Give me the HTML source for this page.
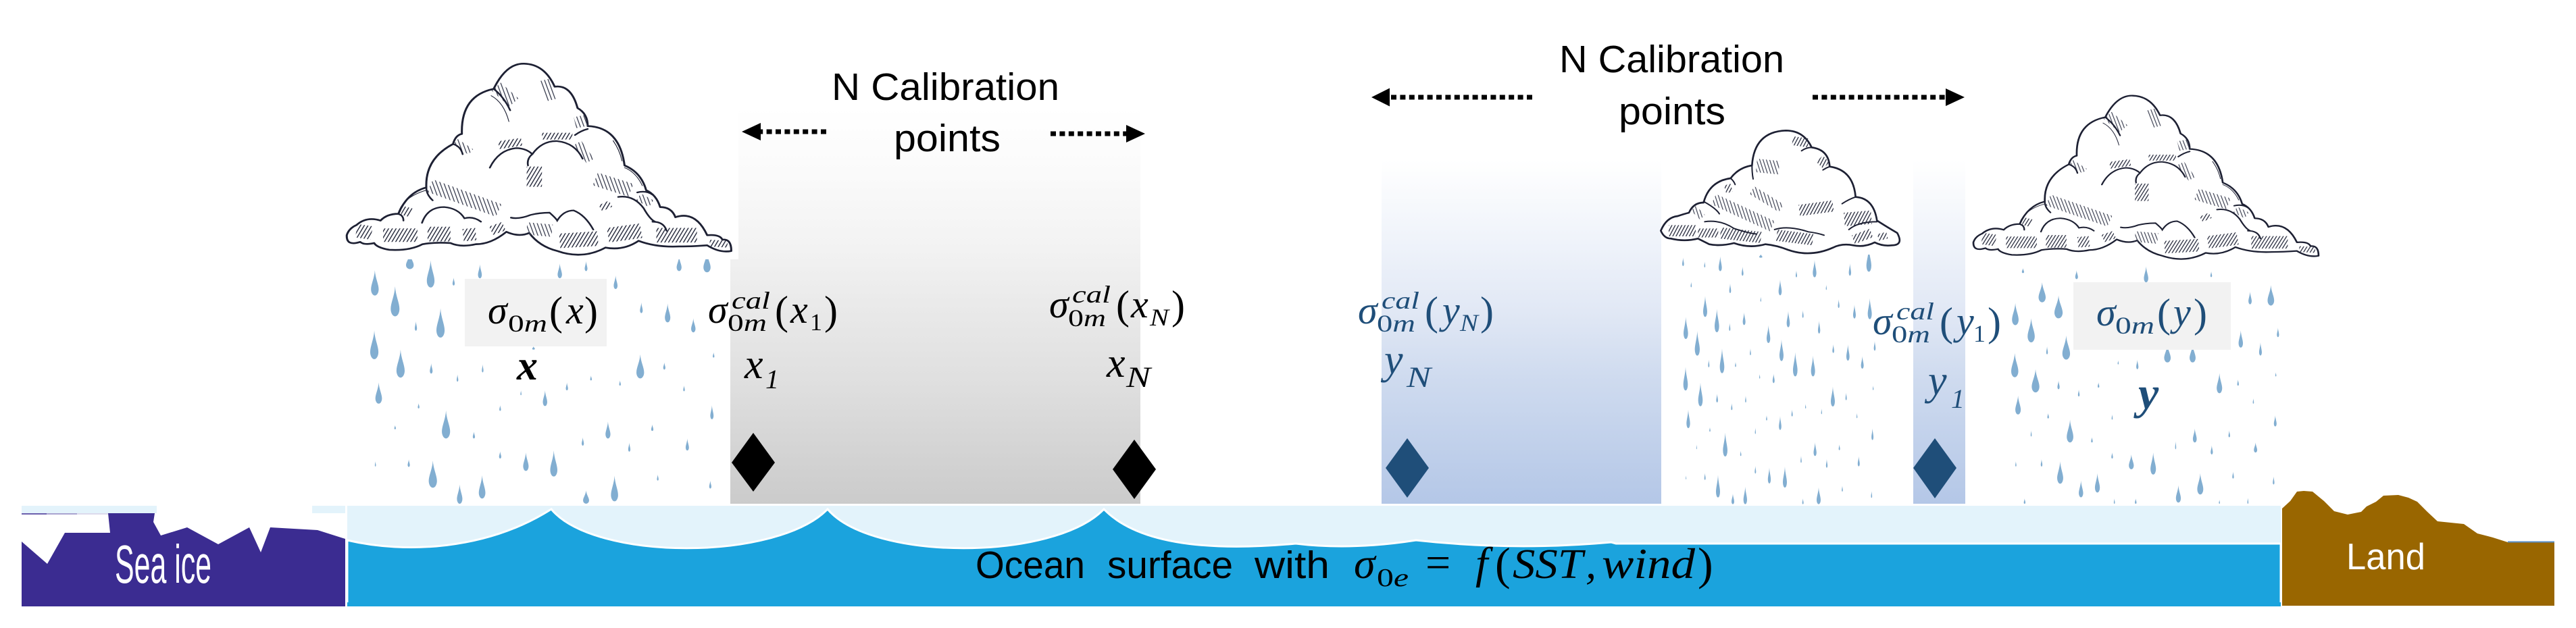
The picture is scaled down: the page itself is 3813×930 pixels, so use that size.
<!DOCTYPE html>
<html lang="en"><head><meta charset="utf-8"><title>N Calibration points diagram</title>
<style>
html,body{margin:0;padding:0;background:#fff}
svg{display:block}
.lab{font-family:"Liberation Sans",sans-serif;font-size:57px;fill:#000}
.wh{font-family:"Liberation Sans",sans-serif;fill:#fff}
.m{font-family:"Liberation Serif",serif;font-style:italic;font-size:58px}
.sb{font-family:"Liberation Serif",serif;font-style:italic;font-size:36px}
.p{font-family:"Liberation Serif",serif;font-size:60px}
.v{font-family:"Liberation Serif",serif;font-style:italic;font-size:62px}
.k{fill:#000}.b{fill:#1f4e79}
</style></head><body>
<svg width="3813" height="930" viewBox="0 0 3813 930" xmlns="http://www.w3.org/2000/svg">
<defs>
<linearGradient id="gG" x1="0" y1="0" x2="0" y2="1"><stop offset="0" stop-color="#fff"/><stop offset=".17" stop-color="#fafafa"/><stop offset=".34" stop-color="#f3f3f3"/><stop offset=".51" stop-color="#e9e9e9"/><stop offset=".68" stop-color="#e0e0e0"/><stop offset="1" stop-color="#cbcbcb"/></linearGradient>
<linearGradient id="gB" x1="0" y1="0" x2="0" y2="1"><stop offset="0" stop-color="#fff"/><stop offset=".24" stop-color="#eff3fa"/><stop offset=".44" stop-color="#e1e8f5"/><stop offset=".63" stop-color="#cfdbef"/><stop offset="1" stop-color="#b4c7e7"/></linearGradient>
<pattern id="h1" patternUnits="userSpaceOnUse" width="13" height="13" patternTransform="rotate(28)"><rect width="4" height="13" fill="#2a2e40"/></pattern>
<pattern id="h2" patternUnits="userSpaceOnUse" width="14" height="14" patternTransform="rotate(-18)"><rect width="3.500" height="14" fill="#3a3e50"/></pattern>
<path id="d" d="M0,0C.05,.3 .5,.55 .5,.75A.5,.25 0 1 1 -.5,.75C-.5,.55 -.05,.3 0,0Z"/>
<g id="c1">
<path d="M22,790Q30,760 60,745Q100,705 155,725Q180,695 225,695Q260,600 335,578Q330,450 440,385Q450,345 475,340Q470,170 600,140Q650,25 720,28Q800,30 840,130Q905,120 930,225Q970,250 970,305Q1095,310 1115,480Q1180,510 1200,590Q1240,610 1255,665Q1300,665 1315,710Q1395,680 1440,790Q1490,785 1500,810Q1535,805 1535,860Q1490,870 1440,835Q1380,840 1330,840Q1240,845 1170,815Q1110,860 1040,845Q950,900 850,860Q780,840 740,780Q700,800 650,775Q590,830 530,830Q470,845 430,825Q370,820 320,830Q270,860 190,855Q140,845 130,825Q90,835 75,820Q20,840 22,790Z" fill="#fff" stroke="#1d2033" stroke-width="8" stroke-linejoin="round"/>
<g fill="none" stroke-linecap="butt">
<path d="M60,770L120,780" stroke="url(#h1)" stroke-width="60"/>
<path d="M165,790L300,790" stroke="url(#h1)" stroke-width="60"/>
<path d="M340,785L430,785" stroke="url(#h1)" stroke-width="65"/>
<path d="M480,790L530,785" stroke="url(#h1)" stroke-width="55"/>
<path d="M590,770L640,750" stroke="url(#h1)" stroke-width="40"/>
<path d="M730,760L830,770" stroke="url(#h2)" stroke-width="55"/>
<path d="M860,815L1010,805" stroke="url(#h1)" stroke-width="65"/>
<path d="M1050,790L1180,770" stroke="url(#h1)" stroke-width="65"/>
<path d="M1240,790L1400,790" stroke="url(#h1)" stroke-width="65"/>
<path d="M1450,825L1520,830" stroke="url(#h1)" stroke-width="30"/>
<path d="M350,570L620,680" stroke="url(#h2)" stroke-width="60"/>
<path d="M1000,540L1140,590" stroke="url(#h2)" stroke-width="60"/>
<path d="M730,530L790,530" stroke="url(#h1)" stroke-width="90"/>
<path d="M610,130L680,200" stroke="url(#h2)" stroke-width="50"/>
<path d="M800,100L825,190" stroke="url(#h2)" stroke-width="40"/>
<path d="M920,290L965,280" stroke="url(#h2)" stroke-width="50"/>
<path d="M450,375L510,420" stroke="url(#h2)" stroke-width="30"/>
<path d="M620,390L710,375" stroke="url(#h1)" stroke-width="35"/>
<path d="M790,350L910,350" stroke="url(#h1)" stroke-width="30"/>
<path d="M930,380L980,460" stroke="url(#h2)" stroke-width="35"/>
<path d="M1020,670L1060,650" stroke="url(#h1)" stroke-width="30"/>
<path d="M1170,620L1220,650" stroke="url(#h2)" stroke-width="35"/>
<path d="M240,680L275,690" stroke="url(#h1)" stroke-width="40"/>
</g>
<g fill="none" stroke="#1d2033" stroke-width="7" stroke-linecap="round">
<path d="M600,140Q640,175 665,235"/>
<path d="M590,170Q640,200 660,285" stroke-width="3"/>
<path d="M440,385Q470,395 478,430"/>
<path d="M335,578Q335,610 360,635"/>
<path d="M585,490Q620,410 690,403Q730,405 752,430Q730,450 735,480"/>
<path d="M752,430Q790,370 850,372Q920,380 950,450"/>
<path d="M920,345Q945,325 970,318"/>
<path d="M1090,620Q1150,610 1190,670Q1215,720 1235,730"/>
<path d="M1165,600Q1200,590 1225,610"/>
<path d="M1115,490Q1160,510 1185,570" stroke-width="3"/>
<path d="M318,735Q340,665 405,665Q460,670 485,715Q520,705 550,730"/>
<path d="M668,712Q700,720 745,700Q780,690 820,690Q845,715 850,725Q875,680 915,680Q960,700 992,765"/>
<path d="M1225,730Q1270,730 1280,770"/>
<path d="M222,695Q245,700 245,725"/>
<path d="M225,690Q245,620 335,590" stroke-width="3"/>
<path d="M1070,370Q1095,410 1105,460" stroke-width="3"/>
</g>
</g>
</defs>

<!-- panels -->
<rect x="1081" y="160" width="607" height="586" fill="url(#gG)"/>
<rect x="2045" y="237" width="864" height="509" fill="url(#gB)"/>

<!-- image white backgrounds -->
<rect x="505" y="384" width="576" height="362" fill="#fff"/>
<rect x="2459" y="193" width="373" height="553" fill="#fff"/>
<rect x="2909" y="130" width="530" height="616" fill="#fff"/>

<!-- rain left -->
<g fill="#82aed1" transform="scale(.81 .593)">
<use href="#d" transform="translate(749 632)scale(14 40)"/><use href="#d" transform="translate(787 650)scale(14 68)"/><use href="#d" transform="translate(877 660)scale(7 35)"/><use href="#d" transform="translate(1023 658)scale(8 37)"/><use href="#d" transform="translate(1071 652)scale(5 25)"/><use href="#d" transform="translate(1241 640)scale(9 37)"/><use href="#d" transform="translate(1292 630)scale(13 50)"/><use href="#d" transform="translate(685 675)scale(14 63)"/><use href="#d" transform="translate(829 693)scale(4 20)"/><use href="#d" transform="translate(1125 688)scale(7 34)"/><use href="#d" transform="translate(722 715)scale(16 75)"/><use href="#d" transform="translate(1172 755)scale(5 27)"/><use href="#d" transform="translate(1220 758)scale(10 47)"/><use href="#d" transform="translate(805 770)scale(15 73)"/><use href="#d" transform="translate(760 802)scale(4 24)"/><use href="#d" transform="translate(1267 795)scale(8 35)"/><use href="#d" transform="translate(684 825)scale(15 72)"/><use href="#d" transform="translate(975 865)scale(5 8)"/><use href="#d" transform="translate(1170 885)scale(14 60)"/><use href="#d" transform="translate(732 873)scale(15 70)"/><use href="#d" transform="translate(788 907)scale(5 26)"/><use href="#d" transform="translate(882 910)scale(3 20)"/><use href="#d" transform="translate(1214 905)scale(4 18)"/><use href="#d" transform="translate(836 935)scale(3 18)"/><use href="#d" transform="translate(1304 880)scale(3 13)"/><use href="#d" transform="translate(1080 938)scale(3 12)"/><use href="#d" transform="translate(1133 950)scale(3 13)"/><use href="#d" transform="translate(1036 955)scale(4 20)"/><use href="#d" transform="translate(1250 963)scale(3 14)"/><use href="#d" transform="translate(692 955)scale(12 53)"/><use href="#d" transform="translate(952 975)scale(2 12)"/><use href="#d" transform="translate(996 975)scale(8 39)"/><use href="#d" transform="translate(765 1007)scale(3 13)"/><use href="#d" transform="translate(914 1012)scale(3 14)"/><use href="#d" transform="translate(1301 1012)scale(6 35)"/><use href="#d" transform="translate(815 1025)scale(15 70)"/><use href="#d" transform="translate(1111 1053)scale(9 42)"/><use href="#d" transform="translate(1192 1060)scale(4 16)"/><use href="#d" transform="translate(866 1078)scale(4 17)"/><use href="#d" transform="translate(722 1062)scale(3 10)"/><use href="#d" transform="translate(1065 1092)scale(4 21)"/><use href="#d" transform="translate(1150 1105)scale(4 23)"/><use href="#d" transform="translate(1256 1095)scale(6 30)"/><use href="#d" transform="translate(914 1127)scale(4 18)"/><use href="#d" transform="translate(961 1130)scale(10 46)"/><use href="#d" transform="translate(1012 1125)scale(13 65)"/><use href="#d" transform="translate(686 1152)scale(2 13)"/><use href="#d" transform="translate(747 1147)scale(4 19)"/><use href="#d" transform="translate(791 1150)scale(15 68)"/><use href="#d" transform="translate(1202 1185)scale(3 15)"/><use href="#d" transform="translate(881 1187)scale(12 58)"/><use href="#d" transform="translate(1123 1188)scale(13 64)"/><use href="#d" transform="translate(1298 1200)scale(4 20)"/><use href="#d" transform="translate(840 1210)scale(10 48)"/><use href="#d" transform="translate(1071 1225)scale(11 33)"/>
</g>

<!-- rain middle -->
<g fill="#82aed1" transform="translate(2450 370) scale(.3333)">
<use href="#d" transform="translate(124 35)scale(8 37)"/><use href="#d" transform="translate(220 52)scale(5 26)"/><use href="#d" transform="translate(289 28)scale(14 67)"/><use href="#d" transform="translate(388 75)scale(8 40)"/><use href="#d" transform="translate(469 20)scale(14 15)"/><use href="#d" transform="translate(627 92)scale(6 30)"/><use href="#d" transform="translate(708 45)scale(16 77)"/><use href="#d" transform="translate(865 60)scale(10 55)"/><use href="#d" transform="translate(949 -10)scale(22 107)"/><use href="#d" transform="translate(160 142)scale(5 24)"/><use href="#d" transform="translate(333 150)scale(8 42)"/><use href="#d" transform="translate(555 132)scale(14 70)"/><use href="#d" transform="translate(760 155)scale(4 23)"/><use href="#d" transform="translate(469 208)scale(4 22)"/><use href="#d" transform="translate(222 205)scale(18 93)"/><use href="#d" transform="translate(274 262)scale(20 104)"/><use href="#d" transform="translate(136 298)scale(20 98)"/><use href="#d" transform="translate(395 278)scale(12 56)"/><use href="#d" transform="translate(331 325)scale(6 35)"/><use href="#d" transform="translate(591 272)scale(14 72)"/><use href="#d" transform="translate(656 268)scale(6 34)"/><use href="#d" transform="translate(728 315)scale(10 57)"/><use href="#d" transform="translate(815 220)scale(7 38)"/><use href="#d" transform="translate(885 243)scale(12 62)"/><use href="#d" transform="translate(953 215)scale(18 93)"/><use href="#d" transform="translate(503 335)scale(16 79)"/><use href="#d" transform="translate(187 360)scale(22 110)"/><use href="#d" transform="translate(423 438)scale(5 30)"/><use href="#d" transform="translate(561 398)scale(18 96)"/><use href="#d" transform="translate(791 420)scale(8 38)"/><use href="#d" transform="translate(856 420)scale(14 72)"/><use href="#d" transform="translate(975 405)scale(8 43)"/><use href="#d" transform="translate(297 438)scale(20 110)"/><use href="#d" transform="translate(238 488)scale(6 34)"/><use href="#d" transform="translate(357 498)scale(5 22)"/><use href="#d" transform="translate(622 455)scale(20 107)"/><use href="#d" transform="translate(701 470)scale(18 92)"/><use href="#d" transform="translate(920 472)scale(12 56)"/><use href="#d" transform="translate(135 520)scale(20 105)"/><use href="#d" transform="translate(464 552)scale(4 20)"/><use href="#d" transform="translate(526 550)scale(9 42)"/><use href="#d" transform="translate(968 603)scale(4 20)"/><use href="#d" transform="translate(201 590)scale(20 105)"/><use href="#d" transform="translate(275 640)scale(8 38)"/><use href="#d" transform="translate(402 648)scale(5 30)"/><use href="#d" transform="translate(848 635)scale(6 33)"/><use href="#d" transform="translate(789 607)scale(18 89)"/><use href="#d" transform="translate(340 682)scale(6 30)"/><use href="#d" transform="translate(668 685)scale(4 20)"/><use href="#d" transform="translate(608 710)scale(6 30)"/><use href="#d" transform="translate(739 705)scale(4 25)"/><use href="#d" transform="translate(147 710)scale(16 82)"/><use href="#d" transform="translate(495 735)scale(5 23)"/><use href="#d" transform="translate(555 738)scale(11 62)"/><use href="#d" transform="translate(896 725)scale(4 23)"/><use href="#d" transform="translate(243 788)scale(5 20)"/><use href="#d" transform="translate(445 790)scale(4 28)"/><use href="#d" transform="translate(965 793)scale(9 52)"/><use href="#d" transform="translate(311 812)scale(20 106)"/><use href="#d" transform="translate(184 865)scale(3 21)"/><use href="#d" transform="translate(710 855)scale(13 61)"/><use href="#d" transform="translate(818 865)scale(6 25)"/><use href="#d" transform="translate(380 893)scale(5 23)"/><use href="#d" transform="translate(648 915)scale(5 31)"/><use href="#d" transform="translate(904 917)scale(9 45)"/><use href="#d" transform="translate(762 930)scale(7 38)"/><use href="#d" transform="translate(445 960)scale(6 34)"/><use href="#d" transform="translate(507 967)scale(13 71)"/><use href="#d" transform="translate(576 963)scale(18 93)"/><use href="#d" transform="translate(137 1002)scale(3 18)"/><use href="#d" transform="translate(221 992)scale(6 30)"/><use href="#d" transform="translate(279 1000)scale(18 100)"/><use href="#d" transform="translate(831 1048)scale(5 26)"/><use href="#d" transform="translate(961 1072)scale(5 30)"/><use href="#d" transform="translate(345 1083)scale(12 47)"/><use href="#d" transform="translate(400 1052)scale(16 78)"/><use href="#d" transform="translate(656 1105)scale(6 25)"/><use href="#d" transform="translate(726 1055)scale(18 75)"/>
</g>

<!-- rain right -->
<g fill="#82aed1" transform="translate(2540 0) scale(.81 .593)">
<use href="#d" transform="translate(561 670)scale(4 12)"/><use href="#d" transform="translate(659 675)scale(5 22)"/><use href="#d" transform="translate(786 665)scale(8 40)"/><use href="#d" transform="translate(905 678)scale(3 14)"/><use href="#d" transform="translate(596 705)scale(13 50)"/><use href="#d" transform="translate(626 738)scale(15 57)"/><use href="#d" transform="translate(547 757)scale(12 55)"/><use href="#d" transform="translate(576 795)scale(13 60)"/><use href="#d" transform="translate(1014 712)scale(12 51)"/><use href="#d" transform="translate(976 728)scale(6 32)"/><use href="#d" transform="translate(1027 818)scale(4 24)"/><use href="#d" transform="translate(959 825)scale(8 43)"/><use href="#d" transform="translate(995 855)scale(5 33)"/><use href="#d" transform="translate(605 865)scale(3 20)"/><use href="#d" transform="translate(640 838)scale(14 60)"/><use href="#d" transform="translate(825 860)scale(12 45)"/><use href="#d" transform="translate(871 860)scale(11 45)"/><use href="#d" transform="translate(770 898)scale(4 24)"/><use href="#d" transform="translate(546 882)scale(13 60)"/><use href="#d" transform="translate(735 900)scale(2 10)"/><use href="#d" transform="translate(584 922)scale(14 58)"/><use href="#d" transform="translate(626 950)scale(4 22)"/><use href="#d" transform="translate(699 955)scale(3 13)"/><use href="#d" transform="translate(663 973)scale(3 17)"/><use href="#d" transform="translate(920 932)scale(10 50)"/><use href="#d" transform="translate(954 948)scale(3 15)"/><use href="#d" transform="translate(1023 930)scale(2 10)"/><use href="#d" transform="translate(552 988)scale(10 47)"/><use href="#d" transform="translate(982 995)scale(2 13)"/><use href="#d" transform="translate(607 1032)scale(3 13)"/><use href="#d" transform="translate(724 1035)scale(2 13)"/><use href="#d" transform="translate(1022 1037)scale(5 28)"/><use href="#d" transform="translate(647 1048)scale(12 57)"/><use href="#d" transform="translate(875 1070)scale(7 35)"/><use href="#d" transform="translate(938 1075)scale(3 17)"/><use href="#d" transform="translate(576 1075)scale(2 15)"/><use href="#d" transform="translate(687 1092)scale(3 13)"/><use href="#d" transform="translate(840 1102)scale(2 20)"/><use href="#d" transform="translate(906 1112)scale(4 23)"/><use href="#d" transform="translate(986 1105)scale(6 25)"/><use href="#d" transform="translate(724 1130)scale(3 15)"/><use href="#d" transform="translate(759 1135)scale(9 37)"/><use href="#d" transform="translate(799 1130)scale(10 55)"/><use href="#d" transform="translate(548 1152)scale(2 13)"/><use href="#d" transform="translate(595 1147)scale(3 18)"/><use href="#d" transform="translate(629 1152)scale(11 56)"/><use href="#d" transform="translate(945 1178)scale(3 17)"/><use href="#d" transform="translate(697 1182)scale(9 48)"/><use href="#d" transform="translate(885 1182)scale(11 53)"/><use href="#d" transform="translate(1019 1190)scale(3 20)"/><use href="#d" transform="translate(667 1200)scale(8 42)"/><use href="#d" transform="translate(845 1212)scale(9 43)"/><use href="#d" transform="translate(564 1245)scale(3 13)"/><use href="#d" transform="translate(728 1245)scale(2 13)"/><use href="#d" transform="translate(767 1245)scale(3 13)"/><use href="#d" transform="translate(920 1248)scale(2 10)"/><use href="#d" transform="translate(972 1243)scale(2 15)"/>
</g>

<!-- gray label boxes -->
<rect x="688" y="413" width="210" height="100" fill="#f2f2f2"/>
<rect x="3069" y="418" width="233" height="100" fill="#f2f2f2"/>

<!-- cloud image backgrounds, clipping the rain tops -->
<rect x="505" y="85" width="588" height="299" fill="#fff"/>
<rect x="2459" y="193" width="373" height="184" fill="#fff"/>

<!-- clouds -->
<use href="#c1" transform="translate(505 85) scale(.3762 .3333)"/>
<use href="#c1" transform="translate(2913.600 133.700) scale(.3377 .285)"/>
<g transform="translate(2450 185) scale(.3333)">
<path d="M25,470Q50,410 100,405Q130,395 150,390Q170,345 215,345Q240,250 335,237Q370,190 430,180Q440,30 580,25Q660,25 695,100Q770,110 775,185Q880,200 890,320Q970,325 985,425Q1040,460 1075,480Q1105,535 1050,535Q1010,540 975,522Q930,545 880,535Q830,525 790,545Q690,590 590,555Q540,535 490,530Q420,550 350,525Q290,540 240,530Q210,515 190,505Q130,520 70,505Q40,505 25,470Z" fill="#fff" stroke="#1d2033" stroke-width="8" stroke-linejoin="round"/>
<g fill="none">
<path d="M260,330L520,450" stroke="url(#h2)" stroke-width="50"/>
<path d="M430,290L560,370" stroke="url(#h2)" stroke-width="40"/>
<path d="M640,380L790,360" stroke="url(#h1)" stroke-width="50"/>
<path d="M610,70L680,80" stroke="url(#h1)" stroke-width="40"/>
<path d="M730,150L760,180" stroke="url(#h1)" stroke-width="40"/>
<path d="M450,180L550,190" stroke="url(#h2)" stroke-width="60"/>
<path d="M840,420L960,410" stroke="url(#h1)" stroke-width="60"/>
<path d="M540,490L700,510" stroke="url(#h1)" stroke-width="50"/>
<path d="M880,510L960,480" stroke="url(#h1)" stroke-width="40"/>
<path d="M990,500L1030,490" stroke="url(#h1)" stroke-width="30"/>
<path d="M170,370L210,410" stroke="url(#h2)" stroke-width="30"/>
<path d="M60,470L180,470" stroke="url(#h1)" stroke-width="50"/>
<path d="M190,480L280,480" stroke="url(#h1)" stroke-width="40"/>
<path d="M290,480L470,500" stroke="url(#h1)" stroke-width="50"/>
<path d="M320,265L330,300" stroke="url(#h1)" stroke-width="30"/>
</g>
<g fill="none" stroke="#1d2033" stroke-width="6" stroke-linecap="round">
<path d="M430,180Q430,215 435,240"/><path d="M335,237Q350,250 355,265"/><path d="M215,340Q270,370 285,395"/>
<path d="M220,430Q290,420 350,460Q410,480 450,485"/><path d="M530,465Q590,445 680,475Q720,480 750,490"/>
<path d="M830,350Q860,330 890,320"/><path d="M860,465Q900,430 985,430"/><path d="M650,115Q670,100 695,100"/><path d="M745,200Q760,190 775,185"/>
</g>
</g>

<!-- ocean -->
<rect x="514" y="749" width="2862" height="148" fill="#e3f3fb"/>
<path d="M514,800C600,820 720,815 816,754C880,831 1150,831 1225,754C1290,831 1560,831 1634,754C1690,812 1810,815 1918,805Q2000,815 2096,800Q2240,816 2385,803L2392,805H3376V897H514Z" fill="#1ba3dd" stroke="#fff" stroke-width="3"/>
<rect x="514" y="892" width="2862" height="6" fill="#1ba3dd"/>

<!-- sea ice -->
<rect x="32" y="749" width="200" height="11" fill="#e3f3fb"/>
<rect x="462" y="749" width="49" height="11" fill="#e3f3fb"/>
<rect x="32" y="760" width="37" height="2" fill="#6c60ad"/><rect x="69" y="760" width="45" height="2" fill="#a9a3d0"/><rect x="114" y="760" width="46" height="2" fill="#dcdaec"/>
<polygon points="32,802 70,835 96,789 163,789 160,760 229,760 227,773 238,793 277,781 323,806 369,781 386,818 400,781 470,785 511,798 511,898 32,898" fill="#3b2c91"/>
<text class="wh" x="170" y="863" font-size="80" textLength="143" lengthAdjust="spacingAndGlyphs">Sea ice</text>

<!-- land -->
<polygon points="3378,753 3390,742 3400,728 3410,727 3423,728 3440,742 3455,757 3475,762 3495,758 3503,750 3517,743 3528,734 3550,733 3565,737 3578,743 3593,758 3608,772 3647,776 3667,790 3690,796 3712,803 3781,803 3781,897 3378,897" fill="#996600"/>
<rect x="3712" y="801.500" width="69" height="2" fill="#5a8fc8"/>
<text class="wh" x="3473" y="843" font-size="55" textLength="117" lengthAdjust="spacingAndGlyphs">Land</text>

<!-- diamonds -->
<polygon points="1115,641 1147,685 1115,728 1083,685" fill="#000"/>
<polygon points="1679,651 1711,695 1679,739 1647,695" fill="#000"/>
<polygon points="2083,649 2115,693 2083,737 2051,693" fill="#1f4e79"/>
<polygon points="2864,649 2896,693 2864,738 2832,693" fill="#1f4e79"/>

<!-- arrows -->
<g stroke="#000" stroke-width="7" fill="none" stroke-dasharray="8 5.400">
<path d="M1223,195H1126"/><path d="M1555,198H1667"/><path d="M2268,144H2057"/><path d="M2683,144H2880"/>
</g>
<polygon points="1098,195 1126,182 1126,208" fill="#000"/>
<polygon points="1695,198 1667,185 1667,211" fill="#000"/>
<polygon points="2030,144 2057,130.500 2057,157.500" fill="#000"/>
<polygon points="2908,144 2880,131 2880,157" fill="#000"/>

<!-- headings -->
<text class="lab" x="1231" y="148" textLength="337" lengthAdjust="spacingAndGlyphs">N Calibration</text>
<text class="lab" x="1323" y="224" textLength="158" lengthAdjust="spacingAndGlyphs">points</text>
<text class="lab" x="2308" y="107" textLength="333" lengthAdjust="spacingAndGlyphs">N Calibration</text>
<text class="lab" x="2396" y="184" textLength="158" lengthAdjust="spacingAndGlyphs">points</text>

<!-- σ0m(x) -->
<g class="k" transform="translate(722 479)">
<text class="m">σ</text><text class="sb" x="30" y="12" textLength="58" lengthAdjust="spacingAndGlyphs"><tspan font-style="normal">0</tspan>m</text>
<text class="p" x="91" y="2">(</text><text class="m" x="116">x</text><text class="p" x="143" y="2">)</text>
</g>
<!-- σ0m(y) -->
<g class="b" transform="translate(3103 482)">
<text class="m">σ</text><text class="sb" x="28" y="12" textLength="58" lengthAdjust="spacingAndGlyphs"><tspan font-style="normal">0</tspan>m</text>
<text class="p" x="90" y="2">(</text><text class="m" x="114">y</text><text class="p" x="144" y="2">)</text>
</g>
<!-- cal x1 -->
<g class="k" transform="translate(1048 478)">
<text class="m">σ</text><text class="sb" x="35" y="-21" textLength="57" lengthAdjust="spacingAndGlyphs">cal</text><text class="sb" x="29" y="12" textLength="58" lengthAdjust="spacingAndGlyphs"><tspan font-style="normal">0</tspan>m</text>
<text class="p" x="99" y="2">(</text><text class="m" x="122">x</text><text class="sb" x="151" y="11" style="font-style:normal">1</text><text class="p" x="172" y="2">)</text>
</g>
<!-- cal xN -->
<g class="k" transform="translate(1553 470)">
<text class="m">σ</text><text class="sb" x="34" y="-22" textLength="57" lengthAdjust="spacingAndGlyphs">cal</text><text class="sb" x="28" y="13" textLength="56" lengthAdjust="spacingAndGlyphs"><tspan font-style="normal">0</tspan>m</text>
<text class="p" x="99" y="2">(</text><text class="m" x="121">x</text><text class="sb" x="149" y="12" textLength="28" lengthAdjust="spacingAndGlyphs">N</text><text class="p" x="181" y="2">)</text>
</g>
<!-- cal yN -->
<g class="b" transform="translate(2010 479)">
<text class="m">σ</text><text class="sb" x="35" y="-22" textLength="56" lengthAdjust="spacingAndGlyphs">cal</text><text class="sb" x="28" y="12" textLength="57" lengthAdjust="spacingAndGlyphs"><tspan font-style="normal">0</tspan>m</text>
<text class="p" x="99" y="2">(</text><text class="m" x="125">y</text><text class="sb" x="151" y="11" textLength="27" lengthAdjust="spacingAndGlyphs">N</text><text class="p" x="181" y="2">)</text>
</g>
<!-- cal y1 -->
<g class="b" transform="translate(2772 495)">
<text class="m">σ</text><text class="sb" x="35" y="-22" textLength="56" lengthAdjust="spacingAndGlyphs">cal</text><text class="sb" x="28" y="12" textLength="57" lengthAdjust="spacingAndGlyphs"><tspan font-style="normal">0</tspan>m</text>
<text class="p" x="99" y="2">(</text><text class="m" x="124">y</text><text class="sb" x="149" y="11" style="font-style:normal">1</text><text class="p" x="170" y="2">)</text>
</g>

<!-- point labels -->
<g class="k"><text class="v" x="1102" y="560">x</text><text class="sb" x="1133" y="575" style="font-size:40px">1</text>
<text class="v" x="1638" y="558">x</text><text class="sb" x="1667" y="573" style="font-size:43px" textLength="36" lengthAdjust="spacingAndGlyphs">N</text>
<text class="v" x="765" y="562" font-weight="bold">x</text></g>
<g class="b"><text class="v" x="2049" y="553">y</text><text class="sb" x="2082" y="573" style="font-size:43px" textLength="36" lengthAdjust="spacingAndGlyphs">N</text>
<text class="v" x="2854" y="584">y</text><text class="sb" x="2888" y="604" style="font-size:40px">1</text>
<text class="v" x="3165" y="605" font-weight="bold" style="font-size:68px">y</text></g>

<!-- ocean caption -->
<g class="k">
<text class="lab" x="1444" y="856" textLength="162" lengthAdjust="spacingAndGlyphs">Ocean</text>
<text class="lab" x="1639" y="856" textLength="186" lengthAdjust="spacingAndGlyphs">surface</text>
<text class="lab" x="1857" y="856" textLength="111" lengthAdjust="spacingAndGlyphs">with</text>
<text class="m" x="2004" y="856" style="font-size:64px">σ</text>
<text class="sb" x="2038" y="868" style="font-size:38px" textLength="47" lengthAdjust="spacingAndGlyphs"><tspan font-style="normal">0</tspan>e</text>
<text class="p" x="2110" y="855" style="font-size:66px">=</text>
<text class="m" x="2184" y="856" style="font-size:66px">f</text>
<text class="p" x="2213" y="858" style="font-size:68px">(</text>
<text class="m" x="2239" y="856" style="font-size:62px" textLength="104" lengthAdjust="spacingAndGlyphs">SST</text>
<text class="m" x="2347" y="856" style="font-size:64px">,</text>
<text class="m" x="2371" y="856" style="font-size:64px" textLength="138" lengthAdjust="spacingAndGlyphs">wind</text>
<text class="p" x="2513" y="858" style="font-size:68px">)</text>
</g>
</svg>
</body></html>
